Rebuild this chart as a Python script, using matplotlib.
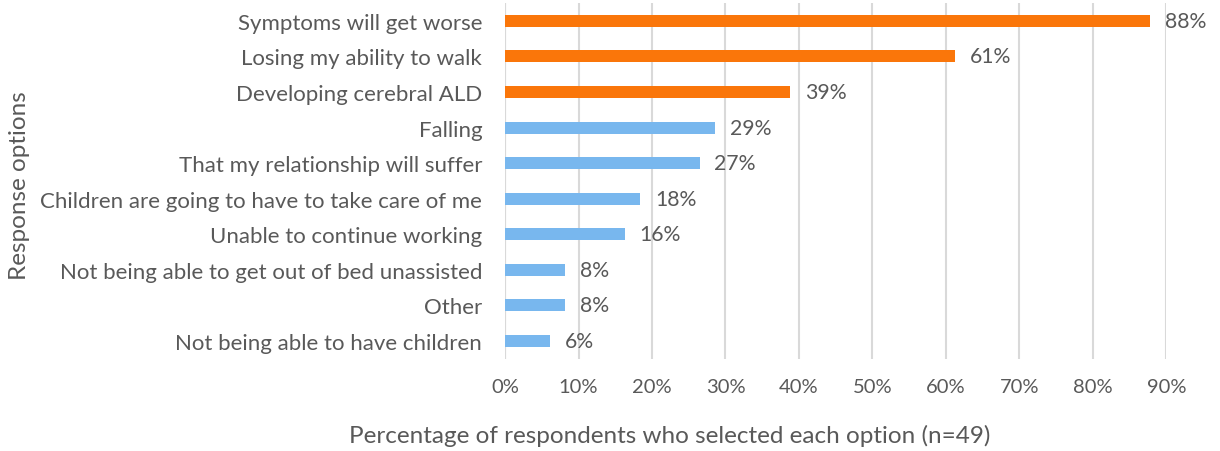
import matplotlib
matplotlib.use("Agg")
import matplotlib.pyplot as plt
import matplotlib.ticker as mticker

categories = [
    "Symptoms will get worse",
    "Losing my ability to walk",
    "Developing cerebral ALD",
    "Falling",
    "That my relationship will suffer",
    "Children are going to have to take care of me",
    "Unable to continue working",
    "Not being able to get out of bed unassisted",
    "Other",
    "Not being able to have children",
]
percent = [87.8, 61.2, 38.8, 28.6, 26.5, 18.4, 16.3, 8.2, 8.2, 6.1]
labels = ["88%", "61%", "39%", "29%", "27%", "18%", "16%", "8%", "8%", "6%"]
highlight = [True, True, True, False, False, False, False, False, False, False]

orange = "#FA760A"
blue = "#78B7EE"
text_c = "#595959"
grid_c = "#D9D9D9"

plt.rcParams["font.family"] = ["Lato", "DejaVu Sans"]

fig = plt.figure(figsize=(12.2, 4.52), dpi=100)
ax = fig.add_axes([0.414, 0.204, 0.542, 0.787])

y = list(range(len(categories)))
colors = [orange if h else blue for h in highlight]
ax.barh(y, percent, height=0.34, color=colors, zorder=3)

# value labels next to each bar
for yi, v, lab in zip(y, percent, labels):
    ax.text(v + 2.0, yi, lab, va="center", ha="left", fontsize=15.3, color=text_c)

ax.set_xlim(0, 90)
ax.set_ylim(len(categories) - 0.5, -0.5)
ax.set_xticks(range(0, 91, 10))
ax.xaxis.set_major_formatter(mticker.FuncFormatter(lambda x, _: f"{int(x)}%"))
ax.set_yticks(y)
ax.set_yticklabels(categories)
ax.tick_params(axis="both", length=0, colors=text_c)
ax.tick_params(axis="x", pad=14, labelsize=14.5)
ax.tick_params(axis="y", pad=16.5, labelsize=16)

ax.xaxis.grid(True, color=grid_c, linewidth=1.5, zorder=0)
ax.set_axisbelow(True)
for s in ax.spines.values():
    s.set_visible(False)
ax.axvline(0, color=grid_c, linewidth=1.5, zorder=1)

fig.text(0.549, 0.035, "Percentage of respondents who selected each option (n=49)",
         ha="center", va="center", fontsize=17.5, color=text_c)
fig.text(0.016, 0.59, "Response options", rotation=90, va="center", ha="center",
         fontsize=17.5, color=text_c)

fig.savefig("out.png", dpi=100, facecolor="white")
